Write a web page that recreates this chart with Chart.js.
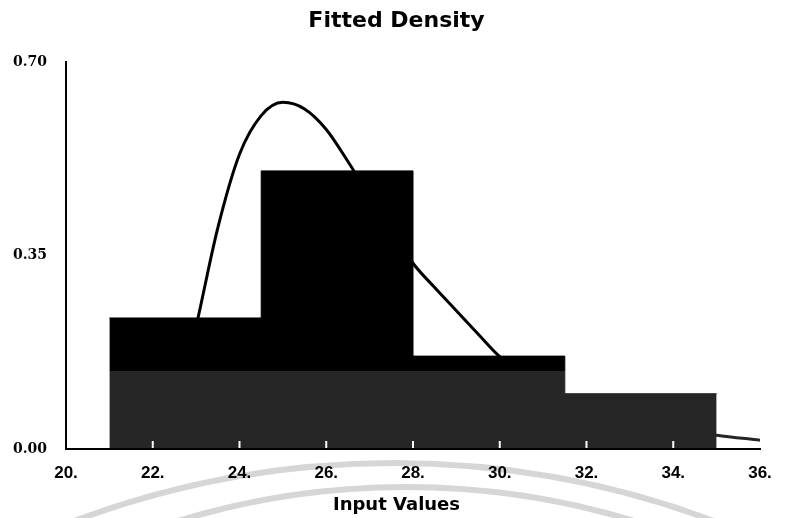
<!DOCTYPE html>
<html>
<head>
<meta charset="utf-8">
<title>Fitted Density</title>
<script src="https://cdn.jsdelivr.net/npm/chart.js@4.4.1/dist/chart.umd.min.js"></script>
<style>
    html, body { margin: 0; padding: 0; background: #ffffff; }
    #wrap { width: 793px; height: 518px; }
</style>
</head>
<body>
<div id="wrap"><canvas id="myChart" width="793" height="518"></canvas></div>
<script>
// histogram bins (left edges + last right edge) and their heights
const binEdges = [21, 24.5, 28, 31.5, 35];
const binHeights = [0.237, 0.503, 0.168, 0.10];

// fitted density curve
const curveX = [22.5, 23.0, 23.5, 24.0, 24.5, 25.0, 25.5, 26.0, 26.5, 27.0, 27.5, 28.0, 28.5, 29.0, 29.5, 30.0, 30.5, 31.0, 31.5, 32.0, 33.0, 34.0, 35.0, 36.0];
const curveY = [0.06, 0.222, 0.400, 0.533, 0.603, 0.627, 0.615, 0.578, 0.520, 0.457, 0.397, 0.336, 0.292, 0.250, 0.208, 0.167, 0.140, 0.116, 0.096, 0.080, 0.055, 0.038, 0.025, 0.016];

const xTicks = [20, 22, 24, 26, 28, 30, 32, 34, 36];
const yTicks = [0, 0.35, 0.70];

// stepped outline: each bin starts at its left edge, last point closes the last bin
const histPoints = binEdges.map((e, i) => ({ x: e, y: binHeights[Math.min(i, binHeights.length - 1)] }));
const curvePoints = curveX.map((x, i) => ({ x: x, y: curveY[i] }));

// scan artefacts: lighter lower band + faint watermark arcs
const scanLook = {
    id: 'scanLook',
    beforeDraw(chart) {
        const ctx = chart.ctx;
        ctx.save();
        ctx.fillStyle = '#ffffff';
        ctx.fillRect(0, 0, chart.width, chart.height);
        ctx.strokeStyle = '#d6d6d6';
        ctx.lineWidth = 6;
        ctx.beginPath();
        ctx.arc(394, 1375, 912, 0, Math.PI * 2);
        ctx.stroke();
        ctx.beginPath();
        ctx.arc(406, 1269, 782, 0, Math.PI * 2);
        ctx.stroke();
        ctx.restore();
    },
    afterDatasetsDraw(chart) {
        const ctx = chart.ctx;
        const area = chart.chartArea;
        const xs = chart.scales.x;
        ctx.save();
        // white tick marks sitting inside the bars
        ctx.strokeStyle = '#ffffff';
        ctx.lineWidth = 2;
        xTicks.slice(1, -1).forEach(v => {
            const px = xs.getPixelForValue(v);
            ctx.beginPath();
            ctx.moveTo(px, area.bottom - 8);
            ctx.lineTo(px, area.bottom - 1);
            ctx.stroke();
        });
        ctx.fillStyle = 'rgba(255,255,255,0.15)';
        ctx.fillRect(area.left + 2, 371, area.right - area.left, area.bottom - 371 - 1);
        ctx.restore();
    }
};

const chartView = document.getElementById('myChart');
const myChart = new Chart(chartView, {
    type: 'line',
    data: {
        datasets: [{
            label: 'Histogram',
            data: histPoints,
            stepped: 'before',
            fill: 'origin',
            backgroundColor: '#000000',
            borderColor: '#000000',
            borderWidth: 1,
            pointRadius: 0,
            order: 0
        }, {
            label: 'Fitted Density',
            data: curvePoints,
            fill: false,
            borderColor: '#000000',
            borderWidth: 3,
            cubicInterpolationMode: 'monotone',
            pointRadius: 0,
            order: 1
        }]
    },
    options: {
        responsive: false,
        animation: false,
        layout: { padding: 0 },
        plugins: {
            legend: { display: false },
            tooltip: { enabled: false },
            title: {
                display: true,
                text: 'Fitted Density',
                color: '#000000',
                font: { family: 'DejaVu Sans', size: 22, weight: 'bold' },
                padding: { top: 8, bottom: 27.6 }
            },
            // axis caption sits centred on the page, not on the plot
            subtitle: {
                display: true,
                position: 'bottom',
                text: 'Input Values',
                color: '#000000',
                font: { family: 'DejaVu Sans', size: 18, weight: 'bold' },
                padding: { top: 2, bottom: 2 }
            }
        },
        scales: {
            x: {
                type: 'linear',
                min: 20,
                max: 36,
                grid: { display: false, drawTicks: false },
                border: { display: true, color: '#000000', width: 2 },
                afterBuildTicks: scale => { scale.ticks = xTicks.map(v => ({ value: v })); },
                afterFit: scale => { scale.height = 69 - 25.6; },
                ticks: {
                    padding: 14,
                    color: '#000000',
                    font: { family: 'Liberation Sans', size: 17, weight: 'bold' },
                    callback: v => v + '.'
                }
            },
            y: {
                type: 'linear',
                min: 0,
                max: 0.7,
                grid: { display: false, drawTicks: false },
                border: { display: true, color: '#000000', width: 2 },
                afterBuildTicks: scale => { scale.ticks = yTicks.map(v => ({ value: v })); },
                afterFit: scale => { scale.width = 66; },
                ticks: {
                    padding: 19,
                    color: '#000000',
                    font: { family: 'DejaVu Serif', size: 14, weight: 'bold' },
                    callback: v => v.toFixed(2)
                }
            },
            // empty right margin so the titles centre on the whole page
            yPad: {
                type: 'linear',
                position: 'right',
                display: true,
                grid: { display: false, drawTicks: false },
                border: { display: false },
                ticks: { display: false },
                afterFit: scale => { scale.width = 33; }
            }
        }
    },
    plugins: [scanLook]
});
</script>
</body>
</html>
